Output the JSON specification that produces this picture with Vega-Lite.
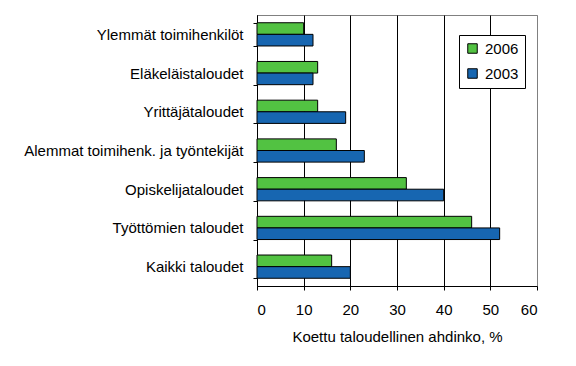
{
  "$schema": "https://vega.github.io/schema/vega-lite/v6.json",
  "autosize": {"type": "none"},
  "padding": {"left": 257, "top": 15, "right": 39, "bottom": 80},
  "width": 280,
  "height": 271,
  "background": "white",
  "config": {
    "font": "Liberation Sans",
    "view": {"stroke": "#808080", "strokeWidth": 1},
    "axis": {"labelColor": "black", "titleColor": "black", "domainColor": "black", "tickColor": "black", "labelFont": "Liberation Sans", "titleFont": "Liberation Sans"}
  },
  "data": {
    "values": [
      {"ryhma": "Ylemmät toimihenkilöt", "vuosi": "2006", "arvo": 10},
      {"ryhma": "Ylemmät toimihenkilöt", "vuosi": "2003", "arvo": 12},
      {"ryhma": "Eläkeläistaloudet\u00a0", "vuosi": "2006", "arvo": 13},
      {"ryhma": "Eläkeläistaloudet\u00a0", "vuosi": "2003", "arvo": 12},
      {"ryhma": "Yrittäjätaloudet", "vuosi": "2006", "arvo": 13},
      {"ryhma": "Yrittäjätaloudet", "vuosi": "2003", "arvo": 19},
      {"ryhma": "Alemmat toimihenk. ja työntekijät", "vuosi": "2006", "arvo": 17},
      {"ryhma": "Alemmat toimihenk. ja työntekijät", "vuosi": "2003", "arvo": 23},
      {"ryhma": "Opiskelijataloudet", "vuosi": "2006", "arvo": 32},
      {"ryhma": "Opiskelijataloudet", "vuosi": "2003", "arvo": 40},
      {"ryhma": "Työttömien taloudet", "vuosi": "2006", "arvo": 46},
      {"ryhma": "Työttömien taloudet", "vuosi": "2003", "arvo": 52},
      {"ryhma": "Kaikki taloudet", "vuosi": "2006", "arvo": 16},
      {"ryhma": "Kaikki taloudet", "vuosi": "2003", "arvo": 20}
    ]
  },
  "mark": {"type": "bar", "stroke": "black", "strokeWidth": 1},
  "encoding": {
    "y": {
      "field": "ryhma",
      "type": "nominal",
      "sort": null,
      "scale": {"paddingInner": 0.4, "paddingOuter": 0.2},
      "axis": {
        "title": null,
        "tickBand": "extent",
        "tickSize": 4,
        "labelPadding": 10,
        "labelFontSize": 15,
        "labelLimit": 400,
        "grid": false
      }
    },
    "yOffset": {
      "field": "vuosi",
      "type": "nominal",
      "scale": {"domain": ["2006", "2003"], "paddingInner": 0, "paddingOuter": 0}
    },
    "x": {
      "field": "arvo",
      "type": "quantitative",
      "scale": {"domain": [0, 60], "nice": false},
      "axis": {
        "title": "Koettu taloudellinen ahdinko, %",
        "titleFontSize": 15,
        "titleFontWeight": "normal",
        "titlePadding": 12,
        "values": [0, 10, 20, 30, 40, 50, 60],
        "labelFontSize": 15,
        "labelPadding": 12,
        "tickSize": 4,
        "grid": true,
        "gridColor": {"condition": {"test": "datum.value == 60", "value": "#808080"}, "value": "black"},
        "gridOpacity": 1
      }
    },
    "color": {
      "field": "vuosi",
      "type": "nominal",
      "scale": {"domain": ["2006", "2003"], "range": ["#52C242", "#1766B1"]},
      "legend": {
        "title": null,
        "orient": "none",
        "legendX": 202,
        "legendY": 20,
        "symbolType": "square",
        "symbolSize": 90,
        "symbolStrokeColor": "black",
        "symbolStrokeWidth": 1,
        "symbolOpacity": 1,
        "labelFontSize": 15,
        "labelColor": "black",
        "labelFont": "Liberation Sans",
        "labelOffset": 5,
        "rowPadding": 9,
        "padding": 6,
        "fillColor": "white",
        "strokeColor": "black"
      }
    }
  }
}
